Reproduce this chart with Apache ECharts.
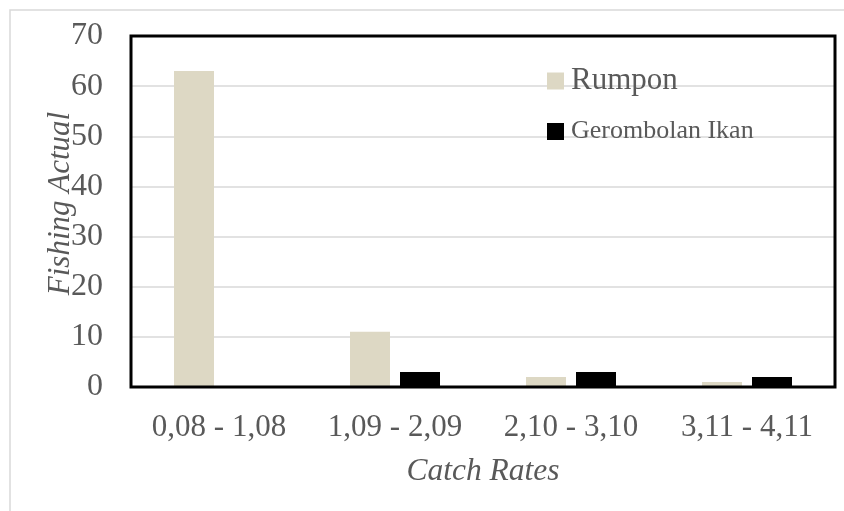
<!DOCTYPE html>
<html><head><meta charset="utf-8">
<script src="https://cdn.jsdelivr.net/npm/echarts@6/dist/echarts.min.js"></script>
<style>html,body{margin:0;padding:0;background:#fff}#c{width:844px;height:511px}</style>
</head><body><div id="c"></div>
<script>
const categories = ['0,08 - 1,08', '1,09 - 2,09', '2,10 - 3,10', '3,11 - 4,11'];
const rumpon = [63, 11, 2, 1];
const gerombolan = [0, 3, 3, 2];
const yTicks = [0, 10, 20, 30, 40, 50, 60, 70];

const font = '"Liberation Serif", "Times New Roman", serif';
const txt = '#595959';
const chart = echarts.init(document.getElementById('c'), null, {renderer: 'canvas'});
chart.setOption({
  animation: false,
  backgroundColor: '#fff',
  graphic: [{type: 'rect', shape: {x: 10, y: 10, width: 900, height: 600}, style: {fill: 'none', stroke: '#D9D9D9', lineWidth: 1.5}, silent: true, z: -10}],
  grid: {left: 131, top: 36, right: 9, bottom: 124, show: true, borderColor: '#000', borderWidth: 3, backgroundColor: 'transparent', z: 5},
  legend: [
    {data: ['Rumpon'], left: 547, top: 65.5, padding: 0, icon: 'rect', itemWidth: 17, itemHeight: 17,
     textStyle: {fontFamily: font, fontSize: 31, color: txt, padding: [0,0,0,2]}},
    {data: ['Gerombolan Ikan'], left: 547, top: 118.5, padding: 0, icon: 'rect', itemWidth: 17, itemHeight: 17,
     textStyle: {fontFamily: font, fontSize: 26, color: txt, padding: [0,0,0,2]}}
  ],
  xAxis: {
    type: 'category', data: categories,
    name: 'Catch Rates', nameLocation: 'middle', nameGap: 69, nameMoveOverlap: false,
    nameTextStyle: {fontFamily: font, fontSize: 31.5, fontStyle: 'italic', color: txt},
    axisLine: {show: true, lineStyle: {color: '#8C8C8C', width: 1}},
    axisTick: {show: false},
    axisLabel: {fontFamily: font, fontSize: 31, color: txt, margin: 25, interval: 0}
  },
  yAxis: {
    type: 'value', min: 0, max: 70, interval: 10,
    name: 'Fishing Actual', nameLocation: 'middle', nameGap: 55, nameMoveOverlap: false,
    nameTextStyle: {fontFamily: font, fontSize: 31, fontStyle: 'italic', color: txt, padding: [0, 0, 0, 16]},
    axisLine: {show: false}, axisTick: {show: false},
    axisLabel: {fontFamily: font, fontSize: 32, color: txt, margin: 28,
      formatter: v => yTicks.includes(v) ? String(v) : ''},
    splitLine: {lineStyle: {color: '#D9D9D9', width: 1.5}}
  },
  series: [
    {name: 'Rumpon', type: 'bar', data: rumpon, barWidth: 40, barGap: '25%', itemStyle: {color: '#DDD8C4'}},
    {name: 'Gerombolan Ikan', type: 'bar', data: gerombolan, barWidth: 40, itemStyle: {color: '#000000'}}
  ]
});
</script></body></html>
